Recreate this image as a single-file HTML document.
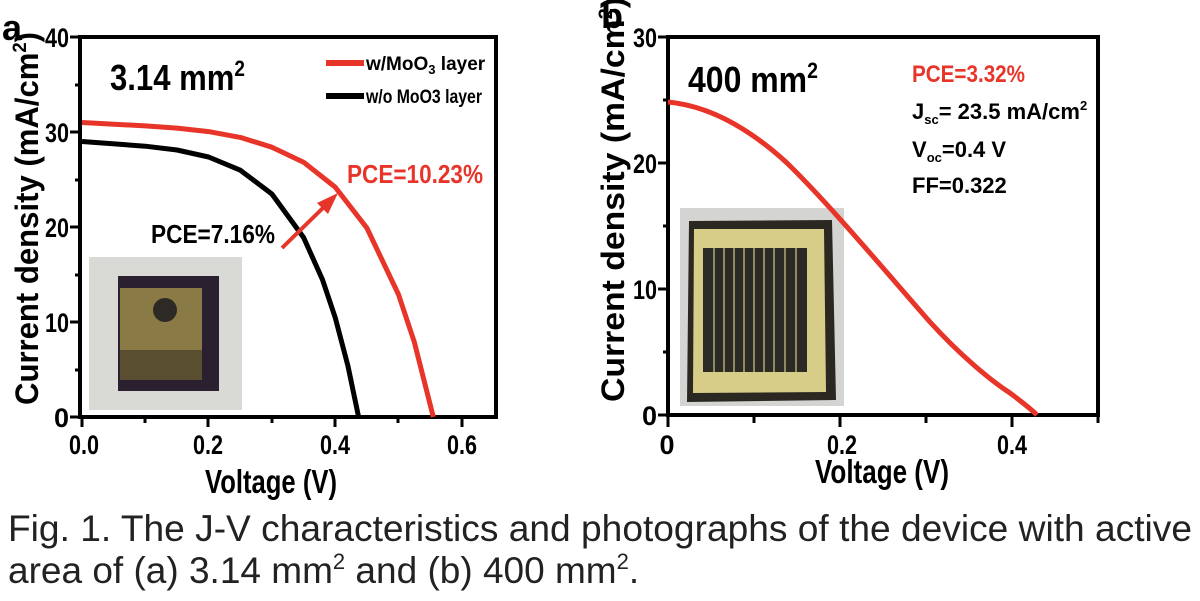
<!DOCTYPE html>
<html><head><meta charset="utf-8"><style>
body{margin:0;background:#fff;width:1200px;height:596px;overflow:hidden}
svg text{font-family:"Liberation Sans",Arial,sans-serif;font-weight:bold}
</style></head><body>
<svg width="1200" height="596" viewBox="0 0 1200 596">
<!-- Panel a -->
<text x="2" y="40" font-size="36">a</text>
<rect x="80" y="37" width="416" height="380" fill="none" stroke="#000" stroke-width="4"/>
<g stroke="#000" stroke-width="3">
<line x1="82" y1="417" x2="82" y2="427"/><line x1="208" y1="417" x2="208" y2="427"/><line x1="335" y1="417" x2="335" y2="427"/><line x1="462" y1="417" x2="462" y2="427"/>
<line x1="145" y1="417" x2="145" y2="423"/><line x1="272" y1="417" x2="272" y2="423"/><line x1="398" y1="417" x2="398" y2="423"/>
<line x1="70" y1="37" x2="80" y2="37"/><line x1="70" y1="132" x2="80" y2="132"/><line x1="70" y1="227" x2="80" y2="227"/><line x1="70" y1="322" x2="80" y2="322"/><line x1="70" y1="417" x2="80" y2="417"/>
<line x1="75" y1="85" x2="80" y2="85"/><line x1="75" y1="180" x2="80" y2="180"/><line x1="75" y1="275" x2="80" y2="275"/><line x1="75" y1="370" x2="80" y2="370"/>
</g>
<g font-size="27" text-anchor="end">
<text x="69" y="47" textLength="24" lengthAdjust="spacingAndGlyphs">40</text><text x="69" y="142" textLength="24" lengthAdjust="spacingAndGlyphs">30</text><text x="69" y="237" textLength="24" lengthAdjust="spacingAndGlyphs">20</text><text x="69" y="332" textLength="24" lengthAdjust="spacingAndGlyphs">10</text><text x="69" y="427">0</text>
</g>
<g font-size="27" text-anchor="middle">
<text x="84" y="454" textLength="30" lengthAdjust="spacingAndGlyphs">0.0</text><text x="208" y="454" textLength="30" lengthAdjust="spacingAndGlyphs">0.2</text><text x="335" y="454" textLength="30" lengthAdjust="spacingAndGlyphs">0.4</text><text x="462" y="454" textLength="30" lengthAdjust="spacingAndGlyphs">0.6</text>
</g>
<text x="205" y="493" font-size="33" textLength="132" lengthAdjust="spacingAndGlyphs">Voltage (V)</text>
<text transform="translate(38,405) rotate(-90)" font-size="32" textLength="373" lengthAdjust="spacingAndGlyphs">Current density (mA/cm<tspan font-size="19" dy="-12">2</tspan><tspan dy="12">)</tspan></text>
<text x="110" y="90" font-size="36" textLength="135" lengthAdjust="spacingAndGlyphs">3.14 mm<tspan font-size="22" dy="-14">2</tspan></text>
<line x1="326" y1="63" x2="364" y2="63" stroke="#e8352a" stroke-width="6"/>
<text x="366" y="70" font-size="19">w/MoO<tspan font-size="13" dy="4">3</tspan><tspan dy="-4"> layer</tspan></text>
<line x1="326" y1="96" x2="364" y2="96" stroke="#000" stroke-width="6"/>
<text x="366" y="103" font-size="19" textLength="116" lengthAdjust="spacingAndGlyphs">w/o MoO3 layer</text>
<rect x="89" y="257" width="153" height="153" fill="#d9d9d6"/>
<rect x="118" y="276" width="101" height="115" fill="#2a2030"/>
<rect x="120" y="288" width="82" height="92" fill="#8a7a45"/>
<rect x="120" y="350" width="82" height="30" fill="#5a4e30"/>
<circle cx="165" cy="310" r="12" fill="#2d2a26"/>
<polyline points="82,122.5 145.3,125.9 177,128.1 208.6,131.6 240.3,137.4 271.9,147.2 303.6,162.2 335.2,187.1 366.9,228 398.5,294.5 414.3,342 433.3,417" fill="none" stroke="#e8352a" stroke-width="5" stroke-linejoin="round"/>
<polyline points="82,141.5 145.3,146.2 177,150 208.6,157 240.3,170.2 271.9,194 303.6,237.5 322.5,279.7 335.2,317.5 347.9,365.7 358.6,417" fill="none" stroke="#000" stroke-width="5" stroke-linejoin="round"/>
<line x1="282" y1="248" x2="326" y2="205" stroke="#e8352a" stroke-width="4"/>
<polygon points="338,193 317,203 328,214" fill="#e8352a"/>
<text x="347" y="183" font-size="26" fill="#e8352a" textLength="136" lengthAdjust="spacingAndGlyphs">PCE=10.23%</text>
<text x="151" y="243" font-size="26" textLength="124" lengthAdjust="spacingAndGlyphs">PCE=7.16%</text>
<!-- Panel b -->
<text x="601" y="28" font-size="36">b</text>
<rect x="668" y="37" width="430" height="378" fill="none" stroke="#000" stroke-width="4"/>
<g stroke="#000" stroke-width="3">
<line x1="668" y1="415" x2="668" y2="427"/><line x1="840" y1="415" x2="840" y2="427"/><line x1="1012" y1="415" x2="1012" y2="427"/>
<line x1="754" y1="415" x2="754" y2="423"/><line x1="926" y1="415" x2="926" y2="423"/><line x1="1098" y1="415" x2="1098" y2="423"/>
<line x1="658" y1="37" x2="668" y2="37"/><line x1="658" y1="163" x2="668" y2="163"/><line x1="658" y1="289" x2="668" y2="289"/><line x1="658" y1="415" x2="668" y2="415"/>
<line x1="663" y1="100" x2="668" y2="100"/><line x1="663" y1="226" x2="668" y2="226"/><line x1="663" y1="352" x2="668" y2="352"/>
</g>
<g font-size="27" text-anchor="end">
<text x="657" y="47" textLength="24" lengthAdjust="spacingAndGlyphs">30</text><text x="657" y="173" textLength="24" lengthAdjust="spacingAndGlyphs">20</text><text x="657" y="299" textLength="24" lengthAdjust="spacingAndGlyphs">10</text><text x="657" y="425">0</text>
</g>
<g font-size="27" text-anchor="middle">
<text x="667" y="454">0</text><text x="842" y="454" textLength="30" lengthAdjust="spacingAndGlyphs">0.2</text><text x="1012" y="454" textLength="30" lengthAdjust="spacingAndGlyphs">0.4</text>
</g>
<text x="815" y="483" font-size="33" textLength="134" lengthAdjust="spacingAndGlyphs">Voltage (V)</text>
<text transform="translate(624,402) rotate(-90)" font-size="32" textLength="405" lengthAdjust="spacingAndGlyphs">Current density (mA/cm<tspan font-size="19" dy="-12">2</tspan><tspan dy="12">)</tspan></text>
<text x="688" y="92" font-size="36" textLength="130" lengthAdjust="spacingAndGlyphs">400 mm<tspan font-size="22" dy="-14">2</tspan></text>
<text x="912" y="82" font-size="24" fill="#e8352a" textLength="113" lengthAdjust="spacingAndGlyphs">PCE=3.32%</text>
<text x="912" y="119" font-size="22">J<tspan font-size="13" dy="5">sc</tspan><tspan dy="-5">= 23.5 mA/cm</tspan><tspan font-size="13" dy="-9">2</tspan></text>
<text x="912" y="157" font-size="22">V<tspan font-size="13" dy="5">oc</tspan><tspan dy="-5">=0.4 V</tspan></text>
<text x="912" y="193" font-size="22">FF=0.322</text>
<rect x="680" y="208" width="164" height="198" fill="#d4d4d2"/>
<polygon points="689,221 832,220 836,400 687,402" fill="#2b2822"/>
<polygon points="694,229 824,229 826,392 693,393" fill="#d8cd88"/>
<rect x="703" y="248" width="104" height="124" fill="#2b2a24"/>
<g stroke="#d8cd88" stroke-width="1.2">
<line x1="714" y1="248" x2="714" y2="372"/><line x1="724" y1="248" x2="724" y2="372"/><line x1="734" y1="248" x2="734" y2="372"/><line x1="744" y1="248" x2="744" y2="372"/><line x1="754" y1="248" x2="754" y2="372"/><line x1="764" y1="248" x2="764" y2="372"/><line x1="774" y1="248" x2="774" y2="372"/><line x1="785" y1="248" x2="785" y2="372"/><line x1="796" y1="248" x2="796" y2="372"/>
</g>
<path d="M668,102 C700,105 740,120 787,163 C830,205 880,265 930,322 C960,355 990,380 1010,393 C1022,402 1030,408 1037,415" fill="none" stroke="#e8352a" stroke-width="5"/>
<!-- caption -->
<g fill="#222">
<text x="8" y="541" font-size="37" style="font-weight:normal" textLength="1184" lengthAdjust="spacingAndGlyphs">Fig. 1. The J-V characteristics and photographs of the device with active</text>
<text x="8" y="583" font-size="37" style="font-weight:normal">area of (a) 3.14 mm<tspan font-size="22" dy="-14">2</tspan><tspan dy="14"> and (b) 400 mm</tspan><tspan font-size="22" dy="-14">2</tspan><tspan dy="14">.</tspan></text>
</g>
</svg>
</body></html>
